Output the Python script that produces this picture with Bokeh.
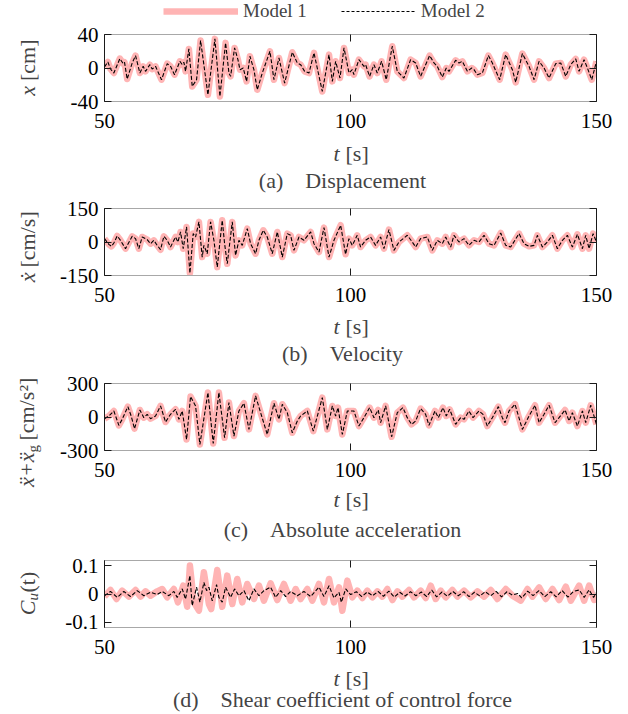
import math
from bokeh.plotting import figure
from bokeh.models import Range1d, LinearAxis, FixedTicker, Label, Legend, LegendItem
from bokeh.layouts import column, row
from bokeh.embed import file_html
from bokeh.resources import INLINE

# ---------------- data ----------------
# (a) displacement [cm]
disp_t = [50.0, 50.68, 51.22, 51.9, 53.12, 53.8, 54.07, 54.61, 55.63, 56.31, 57.19, 57.86, 58.34, 59.22,
          59.69, 60.37, 61.59, 62.75, 63.42, 64.24, 65.32, 65.8, 66.14, 66.47, 67.15, 67.83, 68.71, 69.53,
          71.02, 72.44, 73.46, 74.61, 75.29, 75.63, 76.44, 77.12, 77.53, 78.2, 78.88, 79.56, 80.37, 81.05,
          82.07, 83.63, 84.44, 85.46, 86.61, 88.17, 89.19, 89.86, 90.68, 91.56, 92.58, 94.27, 95.63, 96.31,
          96.98, 97.86, 98.68, 99.69,
          100.36, 100.69, 101.71, 102.73, 103.07, 103.88, 104.76, 105.44, 106.32, 107.27, 108.49, 109.51,
          110.19, 110.86, 112.22, 113.24, 114.25, 116.08, 116.97, 117.64, 118.66, 119.47, 120.02, 121.37,
          122.05, 122.73, 123.75, 124.63, 125.1, 125.78, 126.8, 128.02, 128.83, 130.32, 131.54, 132.9,
          133.58, 134.93, 136.29, 137.31, 138.32, 139.34, 140.36, 141.71, 142.73, 143.75, 144.76, 145.78,
          146.46, 147.47, 148.15, 149.03, 150.0]
disp_v = [1.2, 7.2, -1.2, -6, 11.2, 5.2, 6.8, -13.2, 6, 14.8, -6, 2, -4, 4,
          -1.2, 2, -14, 5.2, 2, -8, 8, 4, 6.8, -4, 22.8, -22, -14, 32.8,
          -32, 34.8, -34, 30, -6, -10, 24, 10, -2, 0, -16, 14, -2, -26,
          -6, 20, -14, 12, -18, 18.8, 6, 4, -4, -6, 18, -28, 16, -16,
          8, -12, 24, -6,
          -2, -8, 10, 2, 4, -10, 4, -6, 8, -14, 26, -4,
          -8, -12, 10, 6, -10, 14.8, 6, 2, -10.8, 0, -4, 9.2,
          6, 8, -4, 0, -2, -8, -6, 14.8, 6, -14, 16, -2,
          -17.2, 17.2, 2, -14, 8, 0, -12, 5.2, 6, -10, 4, 10.8,
          -4, 10, 0, -14, 8]

# (b) velocity [cm/s]
vel_t = [50.0, 50.88, 51.42, 51.9, 52.58, 53.25, 54.27, 55.63, 56.31, 56.98, 57.66, 58.68, 59.36, 60.03,
         60.71, 61.39, 62.07, 62.75, 63.42, 64.44, 64.92, 65.46, 66.0, 66.68, 67.36, 68.03, 68.51, 69.19,
         69.86, 70.2, 70.88, 71.56, 72.24, 72.92, 73.93, 74.41, 74.95, 75.97, 76.64, 77.32, 78.0, 79.02,
         79.69, 80.71, 81.39, 82.27, 83.08, 84.1, 85.12, 86.14, 87.15, 87.83, 88.51, 89.53, 90.54, 91.9,
         92.58, 93.59, 94.61, 95.63, 96.64, 98.0,
         99.0, 99.68, 100.36, 101.37, 102.05, 103.07, 104.08, 105.1, 106.12, 106.8, 107.81, 108.83,
         109.85, 111.54, 112.56, 113.24, 114.25, 115.61, 116.63, 117.64, 118.66, 119.34, 120.36, 121.03,
         122.05, 123.07, 124.08, 125.1, 126.12, 127.14, 128.15, 129.17, 130.53, 131.54, 132.56, 134.25,
         135.27, 136.29, 137.31, 137.98, 139.0, 140.02, 141.03, 142.05, 143.07, 144.08, 145.1, 146.12,
         147.14, 147.81, 148.49, 149.31, 150.0]
vel_v = [15, -10.5, -19.5, -4.5, 27, 7.5, -30, 25.5, 15, -30, 22.5, 10.5, -7.5, 7.5,
         -15, -34.5, 25.5, 7.5, -22.5, 22.5, 0, 45, -30, 67.5, -139.5, 37.5, 22.5, 90,
         -67.5, -15, -52.5, 90, 7.5, -112.5, 97.5, -7.5, -97.5, 90, -60, 7.5, -15, 60,
         -7.5, -52.5, 7.5, 52.5, 22.5, -52.5, 45, -67.5, 37.5, 30, -37.5, 22.5, 7.5, 45,
         -7.5, -45, 64.5, -67.5, 7.5, 75,
         -55, 15, -15, 30, -22.5, 7.5, 22.5, -15, 22.5, -30, 55.5, -37.5,
         0, 30, 0, -22.5, 15, 22.5, -37.5, 7.5, -7.5, 22.5, -22.5, 30,
         0, 15, -15, 7.5, 0, 30, -7.5, -15, 40.5, -15, -22.5, 37.5,
         -7.5, -19.5, -15, 30, -22.5, 0, 30, -30, 7.5, 30, -22.5, 34.5,
         -30, 30, -30, 37.5, 0]

# (c) absolute acceleration [cm/s^2]
acc_t = [50.0, 50.88, 51.9, 52.92, 53.59, 54.75, 55.42, 56.1, 57.19, 58.0, 58.68, 59.36, 60.37, 61.39,
         62.41, 63.42, 64.44, 65.12, 65.8, 66.68, 67.49, 68.51, 69.39, 71.02, 72.1, 73.25, 74.41, 75.29,
         76.31, 77.32, 78.34, 79.36, 80.71, 81.73, 83.08, 84.44, 85.46, 86.14, 87.15, 88.17, 89.19, 89.86,
         91.22, 92.44, 94.27, 95.29, 96.31, 96.98, 97.46, 98.34, 99.36,
         100.69, 101.71, 102.73, 103.88, 104.76, 105.64, 106.12, 107.14, 108.36, 109.51, 110.66, 111.54,
         112.42, 113.24, 114.25, 115.27, 115.95, 117.17, 117.85, 118.8, 119.47, 120.15, 121.37, 122.39,
         123.07, 124.08, 124.9, 126.12, 126.93, 127.81, 128.83, 130.05, 130.86, 131.41, 132.22, 133.44,
         134.93, 136.29, 137.51, 138.32, 139.34, 140.36, 141.58, 142.39, 143.61, 144.42, 145.1, 146.12,
         147.14, 147.81, 148.83, 150.0]
acc_v = [-15, 9, 54, -75, -21, 93, 9, -105, 63, -6, 24, -15, 9, 99,
         -45, 24, 69, -21, 54, -201, 183, 99, -246, 219, -237, 219, -186, 129,
         -171, 54, 123, -111, 189, 39, -156, 123, -21, 114, 39, -141, -36, 9,
         54, -126, 174, -111, 99, 9, 84, -156, 54,
         54, -81, -6, 84, -6, 63, -51, 99, -177, 39, 84, -6,
         -66, -36, 75, 24, -75, 54, -6, 84, 9, 69, -66, -6,
         -21, 54, -6, 54, 24, -81, -6, 93, -6, -51, 54, 114,
         -111, 9, 105, -51, 24, 105, -51, -6, 63, -36, 39, -81,
         54, -51, 105, -66]

# (d) shear coefficient of control force, Model 1
cu1_t = [50.0, 51.22, 52.44, 53.59, 54.95, 56.31, 57.32, 58.34, 59.36, 60.71,
         61.73, 62.75, 64.1, 64.92, 66.0, 66.81, 67.36, 68.17, 69.19, 70.2,
         71.22, 71.69, 72.92, 73.93, 74.95, 75.97, 76.98, 78.0, 79.02, 80.37,
         81.39, 82.41, 83.76, 85.12, 86.47, 87.83, 88.85, 89.86, 91.22, 92.24,
         93.59, 94.61, 95.63, 96.64, 97.66, 98.34, 99.36, 100.37, 101.39, 102.41,
         103.42, 104.44, 105.46, 106.47, 107.49, 108.51, 109.53, 110.54, 111.9, 112.92,
         114.27, 115.29, 116.31, 117.32, 118.34, 119.36, 120.71, 121.73, 123.08, 124.44,
         125.8, 127.15, 128.51, 129.86, 131.56, 132.92, 134.61, 135.97, 136.98, 138.34,
         139.69, 141.05, 142.41, 143.76, 144.78, 146.47, 147.49, 148.51, 149.53, 150.0]
cu1_v = [-0.0094, 0.0141, -0.0176, 0.0118, -0.0094, 0.0141, -0.0094, 0.0094, -0.0059, 0.0094,
         0.0176, -0.0118, 0.0176, -0.0294, 0.0294, -0.0447, 0.1, -0.0294, -0.0588, 0.0765,
         -0.0353, -0.053, 0.0847, -0.0447, 0.0647, -0.0353, 0.053, -0.0294, 0.0353, -0.0176,
         0.0294, -0.0235, 0.0376, -0.0212, 0.0353, -0.0235, 0.0176, -0.0176, 0.0176, -0.0235,
         0.0353, -0.0294, 0.053, -0.0294, 0.0235, -0.0588, 0.047, -0.0118, 0.0118, -0.0141,
         0.0118, -0.0118, 0.0094, -0.0094, 0.0176, -0.0212, 0.0094, -0.0094, 0.0141, -0.0118,
         0.0118, -0.0141, 0.0294, -0.0176, 0.0118, -0.0118, 0.0141, -0.0094, 0.0118, -0.0118,
         0.0094, -0.0094, 0.0141, -0.0176, 0.0176, -0.0059, -0.0235, 0.0176, -0.0094, 0.0235,
         -0.0176, 0.0176, -0.0212, 0.0259, -0.0235, 0.0294, -0.0235, 0.0294, -0.0212, -0.0059]

# (d) Model 2
cu2_t = [50.0, 51.22, 52.58, 53.93, 55.29, 56.64, 58.0, 59.36, 60.71, 61.73, 63.08, 64.1, 64.78, 65.8,
         66.47, 67.36, 67.83, 68.71, 69.39, 70.2, 70.75, 71.22, 71.9, 72.78, 73.25, 73.93, 74.61, 75.63,
         76.44, 77.32, 78.34, 79.36, 80.37, 81.39, 82.41, 83.76, 84.78, 85.8, 86.81, 87.83, 89.19, 90.54,
         91.9, 93.59, 94.61, 95.63, 96.64, 97.66, 98.14, 99.02, 100.03,
         101.2, 102.3, 103.4, 104.5, 105.6, 106.7, 107.8, 108.9, 110.0, 111.1, 112.2, 113.3, 114.4, 115.5,
         116.5, 117.5, 118.6, 119.7, 120.8, 121.9, 123.0, 124.1, 125.2, 126.3, 127.4, 128.5, 129.6, 130.7,
         131.8, 132.9, 134.0, 134.8, 136.0, 137.1, 138.3, 139.5, 140.7, 141.8, 143.0, 144.2, 145.3, 146.5,
         147.5, 148.5, 149.4, 150.0]
cu2_v = [-0.006, 0.009, -0.012, 0.009, -0.009, 0.012, -0.006, 0.006, -0.002, 0.009, -0.006, 0.009, -0.012, 0.018,
         -0.018, 0.065, -0.041, 0.024, -0.029, 0.041, 0.012, 0.024, -0.024, 0.033, -0.012, -0.029, 0.024, -0.012,
         0.018, -0.006, 0.012, -0.024, 0.018, -0.006, 0.012, 0.024, -0.012, 0.012, -0.009, 0.009, -0.006, 0.009,
         -0.009, 0.024, -0.009, 0.029, -0.014, 0.006, -0.029, 0.018, -0.002,
         0.008, -0.009, 0.007, -0.006, 0.009, -0.008, 0.01, -0.011, 0.006, -0.007, 0.008, -0.006, 0.007, -0.009,
         0.014, -0.01, 0.007, -0.008, 0.009, -0.006, 0.008, -0.009, 0.006, -0.007, 0.008, -0.006, 0.009, -0.01,
         0.008, -0.004, 0.002, -0.014, 0.01, -0.006, 0.012, -0.009, 0.008, -0.01, 0.012, -0.011, 0.009, 0.014,
         -0.012, 0.015, -0.012, 0.005]

x_ticks = [50, 100, 150]
series_names = ["Model 1", "Model 2"]

# ---------------- styling / layout ----------------
PINK = "#ffb4b4"
FONT = "Liberation Serif"
PAGE_W = 628
LABEL_W = 50                    # left strip holding the y-axis titles
PLOT_W = PAGE_W - LABEL_W       # 578
FW, FH = 492, 67                # frame size
LEFT = 104 - LABEL_W            # 54
RIGHT = PLOT_W - LEFT - FW      # 32
BOTTOM = 36
LEG_H = 22
GRAY = "#a8a8a8"
BLACK = "#1a1a1a"

panels = [
    dict(t1=disp_t, v1=disp_v, t2=disp_t, v2=disp_v, ylim=(-40, 40), yticks=[-40, 0, 40],
         ylab={-40: "-40", 0: "0", 40: "40"}, top=12, text_h=57,
         cap="(a)\u00a0\u00a0\u00a0\u00a0Displacement", tlab_y=152.5, cap_y=180,
         pieces=[("x", 27, 85.5, "right", "italic", 22), ("[cm]", 27, 80.5, "left", "normal", 22)]),
    dict(t1=vel_t, v1=vel_v, t2=vel_t, v2=vel_v, ylim=(-150, 150), yticks=[-150, 0, 150],
         ylab={-150: "-150", 0: "0", 150: "150"}, top=14, text_h=58,
         cap="(b)\u00a0\u00a0\u00a0\u00a0Velocity", tlab_y=326, cap_y=353,
         pieces=[("x\u0307", 27, 272, "right", "italic", 22), ("[cm/s]", 27, 267, "left", "normal", 22)]),
    dict(t1=acc_t, v1=acc_v, t2=acc_t, v2=acc_v, ylim=(-300, 300), yticks=[-300, 0, 300],
         ylab={-300: "-300", 0: "0", 300: "300"}, top=14, text_h=60,
         cap="(c)\u00a0\u00a0\u00a0\u00a0Absolute acceleration", tlab_y=499, cap_y=528.5,
         pieces=[("x\u0308+x\u0308", 26, 452, "right", "italic", 22), ("g", 32, 452, "left", "normal", 15),
                 ("[cm/s\u00b2]", 26, 440, "left", "normal", 22)]),
    dict(t1=cu1_t, v1=cu1_v, t2=cu2_t, v2=cu2_v, ylim=(-0.118, 0.118), yticks=[-0.1, 0, 0.1],
         ylab={-0.1: "-0.1", 0: "0", 0.1: "0.1"}, top=14, text_h=49,
         cap="(d)\u00a0\u00a0\u00a0\u00a0Shear coefficient of control force", tlab_y=677.5, cap_y=699,
         pieces=[("C", 27, 600, "right", "italic", 22), ("u", 32, 600, "left", "italic", 15),
                 ("(t)", 27, 592, "left", "normal", 22)]),
]
PAGE_H = LEG_H + sum(pd_["top"] + FH + BOTTOM + pd_["text_h"] for pd_ in panels)


def style_axis(ax, ticks, overrides, show_labels, line_color):
    ax.ticker = FixedTicker(ticks=ticks)
    ax.minor_tick_line_color = None
    ax.major_tick_in = 7
    ax.major_tick_out = 0
    ax.major_tick_line_color = BLACK
    ax.axis_line_color = line_color
    ax.axis_line_width = 1
    ax.major_label_text_font = FONT
    ax.major_label_text_color = "black"
    if show_labels:
        ax.major_label_overrides = overrides
        ax.major_label_text_font_size = "21px"
    else:
        ax.major_label_overrides = {tk: "" for tk in ticks}
        ax.major_label_text_font_size = "1px"
        ax.major_label_standoff = 0


def blank_fig(w, h, xr, yr):
    f = figure(width=w, height=h, x_range=Range1d(*xr), y_range=Range1d(*yr),
               output_backend="svg", toolbar_location=None,
               x_axis_location=None, y_axis_location=None,
               min_border_left=0, min_border_right=0, min_border_top=0, min_border_bottom=0)
    f.frame_align = False
    f.outline_line_color = None
    f.xgrid.visible = False
    f.ygrid.visible = False
    f.background_fill_color = "white"
    f.border_fill_color = "white"
    return f


def txt(fig, x, y, s, size=21, style="normal", align="center", angle=0.0):
    fig.add_layout(Label(x=x, y=y, text=s, text_font=FONT, text_font_size=f"{size}px",
                         text_font_style=style, text_align=align, text_baseline="middle",
                         angle=angle))


# left strip with y-axis titles, in page pixel coordinates (y downward)
left_fig = blank_fig(LABEL_W, PAGE_H, (0, LABEL_W), (PAGE_H, 0))

# legend strip on top; its two entries carry the same styles as the series lines
nan = float("nan")
leg_fig = blank_fig(PLOT_W, LEG_H, (LABEL_W, PAGE_W), (LEG_H, 0))
lr1 = leg_fig.line([nan], [nan], line_color=PINK, line_width=6.5)
lr2 = leg_fig.line([nan], [nan], line_color="black", line_width=1.1, line_dash="3 2")
leg = Legend(items=[LegendItem(label=series_names[0], renderers=[lr1]),
                    LegendItem(label=series_names[1], renderers=[lr2])],
             orientation="horizontal", location=(113, 0))
leg.label_text_font = FONT
leg.label_text_font_size = "19px"
leg.glyph_width = 75
leg.glyph_height = 16
leg.label_height = 16
leg.label_standoff = 5
leg.spacing = 34
leg.padding = 0
leg.margin = 0
leg.border_line_color = None
leg.background_fill_alpha = 0
leg_fig.add_layout(leg, "center")

right_items = [leg_fig]
y_cursor = LEG_H
for i, pd_ in enumerate(panels):
    ymin, ymax = pd_["ylim"]
    top = pd_["top"]
    H = top + FH + BOTTOM
    p = figure(width=PLOT_W, height=H, x_range=Range1d(50, 150), y_range=Range1d(ymin, ymax),
               output_backend="svg", toolbar_location=None,
               min_border_left=LEFT, min_border_right=RIGHT, min_border_top=top,
               min_border_bottom=BOTTOM)
    p.outline_line_color = None
    p.xgrid.visible = False
    p.ygrid.visible = False
    p.background_fill_color = "white"
    p.border_fill_color = "white"

    bx = p.xaxis[0]
    style_axis(bx, x_ticks, {50: "50", 100: "100", 150: "150"}, True, GRAY)
    bx.major_label_standoff = 12
    ly = p.yaxis[0]
    style_axis(ly, pd_["yticks"], pd_["ylab"], True, BLACK)
    ly.major_label_standoff = 6

    ax_top = LinearAxis()
    style_axis(ax_top, x_ticks, None, False, GRAY)
    p.add_layout(ax_top, "above")
    ax_right = LinearAxis()
    style_axis(ax_right, pd_["yticks"], None, False, BLACK)
    p.add_layout(ax_right, "right")

    p.line(pd_["t1"], pd_["v1"], line_color=PINK, line_width=6.5, line_join="round")
    p.line(pd_["t2"], pd_["v2"], line_color="black", line_width=1.1, line_dash="4 2")
    right_items.append(p)

    # y-axis title pieces (rotated), page coordinates
    for (s, px, py, align, fstyle, fsize) in pd_["pieces"]:
        txt(left_fig, px, py, s, size=fsize, style=fstyle, align=align, angle=math.pi / 2)

    y_cursor += H
    th = pd_["text_h"]
    tf = blank_fig(PLOT_W, th, (LABEL_W, PAGE_W), (y_cursor + th, y_cursor))
    txt(tf, 339, pd_["tlab_y"], "t", size=22, style="italic", align="right")
    txt(tf, 345, pd_["tlab_y"], "[s]", size=22, align="left")
    txt(tf, 342, pd_["cap_y"], pd_["cap"], size=22)
    right_items.append(tf)
    y_cursor += th

layout = row(left_fig, column(*right_items, spacing=0), spacing=0)
open("out.html", "w").write(file_html(layout, INLINE))
